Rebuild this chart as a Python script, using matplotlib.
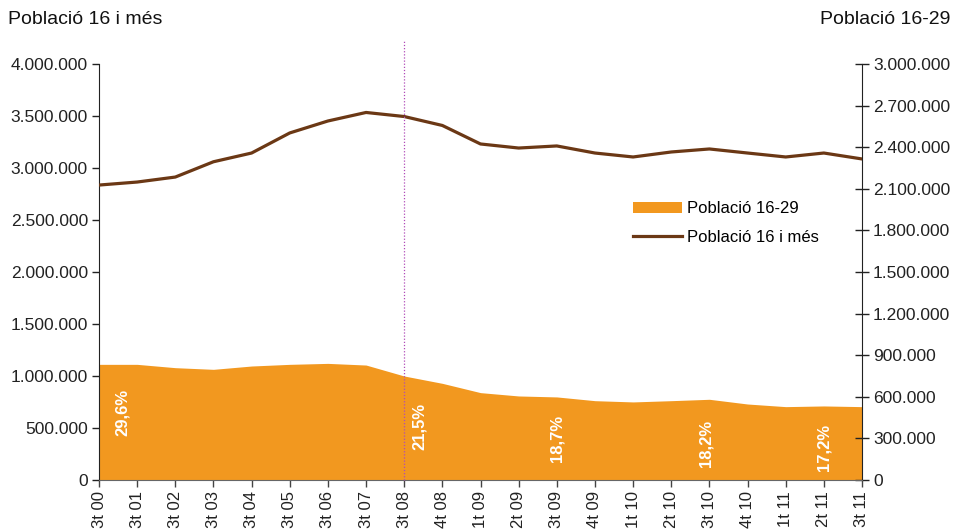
import matplotlib
matplotlib.use("Agg")
import matplotlib.pyplot as plt
from matplotlib.ticker import FuncFormatter, MultipleLocator
from matplotlib.patches import Patch
from matplotlib.lines import Line2D

plt.rcParams['font.family'] = ['Liberation Sans', 'DejaVu Sans']

categories = ["3t 00", "3t 01", "3t 02", "3t 03", "3t 04", "3t 05", "3t 06", "3t 07",
              "3t 08", "4t 08", "1t 09", "2t 09", "3t 09", "4t 09", "1t 10", "2t 10",
              "3t 10", "4t 10", "1t 11", "2t 11", "3t 11"]
pob_16_mes = [2836000, 2865000, 2913000, 3060000, 3144000, 3337000, 3452000, 3534000,
              3495000, 3409000, 3231000, 3192000, 3212000, 3144000, 3106000, 3154000,
              3183000, 3144000, 3106000, 3144000, 3087000]
pob_16_29 = [834000, 834000, 810000, 798000, 822000, 834000, 841000, 829000,
             750000, 697000, 630000, 606000, 599000, 572000, 563000, 572000,
             582000, 548000, 529000, 534000, 529000]
pct_labels = ["29,6%", "21,5%", "18,7%", "18,2%", "17,2%"]
pct_x = [0.6, 8.4, 12.0, 15.9, 19.0]
pct_y = [490000, 389000, 303000, 267000, 238000]

ORANGE = "#F2981F"
BROWN = "#6B3815"

fig = plt.figure(figsize=(9.56, 5.31), dpi=100)
ax = fig.add_axes([99/956, 1-480/531, (862-99)/956, 416/531])
ax2 = ax.twinx()

x = list(range(len(categories)))
ax2.fill_between(x, pob_16_29, 0, color=ORANGE, linewidth=0, zorder=1)
ax2.set_zorder(1)
ax.set_zorder(2)
ax.patch.set_visible(False)
ax.plot(x, pob_16_mes, color=BROWN, linewidth=2.3, solid_capstyle='round', zorder=3)

ax.set_xlim(0, len(categories)-1)
ax.set_ylim(0, 4000000)
ax2.set_ylim(0, 3000000)
ax.yaxis.set_major_locator(MultipleLocator(500000))
ax2.yaxis.set_major_locator(MultipleLocator(300000))
fmt = FuncFormatter(lambda v, p: f"{int(round(v)):,}".replace(",", "."))
ax.yaxis.set_major_formatter(fmt)
ax2.yaxis.set_major_formatter(fmt)

ax.set_xticks(x)
ax.set_xticklabels(categories, rotation=90, fontsize=12, color="#222222")
ax.tick_params(axis='x', direction='out', length=5, width=1, color="#444444", pad=3)
ax.tick_params(axis='y', direction='out', length=5, width=1, color="#222222", labelsize=12.5, labelcolor="#222222", pad=3)
ax2.tick_params(axis='y', direction='inout', length=10, width=1, color="#222222", labelsize=12.5, labelcolor="#222222", pad=3)

for a in (ax, ax2):
    a.spines['top'].set_visible(False)
ax.spines['right'].set_visible(False)
ax2.spines['left'].set_visible(False)
ax2.spines['bottom'].set_visible(False)
ax.spines['left'].set_color("#222222")
ax.spines['bottom'].set_color("#666666")
ax2.spines['right'].set_color("#222222")

# dotted vertical marker at 3t 08
ax.axvline(8, ymin=0, ymax=(480-40)/416, color="#B04BB8", linestyle=(0, (1, 1.5)),
           linewidth=0.9, clip_on=False, zorder=4)

for lab, px, py in zip(pct_labels, pct_x, pct_y):
    ax2.text(px, py, lab, rotation=90, color="white", fontsize=12, fontweight='bold',
             ha='center', va='center', zorder=5)

fig.text(8/956, 1-20/531, "Població 16 i més", fontsize=14, color="#111111", ha='left', va='center')
fig.text(950/956, 1-20/531, "Població 16-29", fontsize=14, color="#111111", ha='right', va='center')

handles = [Patch(facecolor=ORANGE, edgecolor='none'),
           Line2D([0], [0], color=BROWN, linewidth=2.3)]
ax.legend(handles, ["Població 16-29", "Població 16 i més"], loc='upper left',
          bbox_to_anchor=((625-99)/763, 1-(193-64)/416), frameon=False, fontsize=12,
          handlelength=2.9, handletextpad=0.3, labelspacing=0.8, borderpad=0)

fig.savefig("out.png", dpi=100)
